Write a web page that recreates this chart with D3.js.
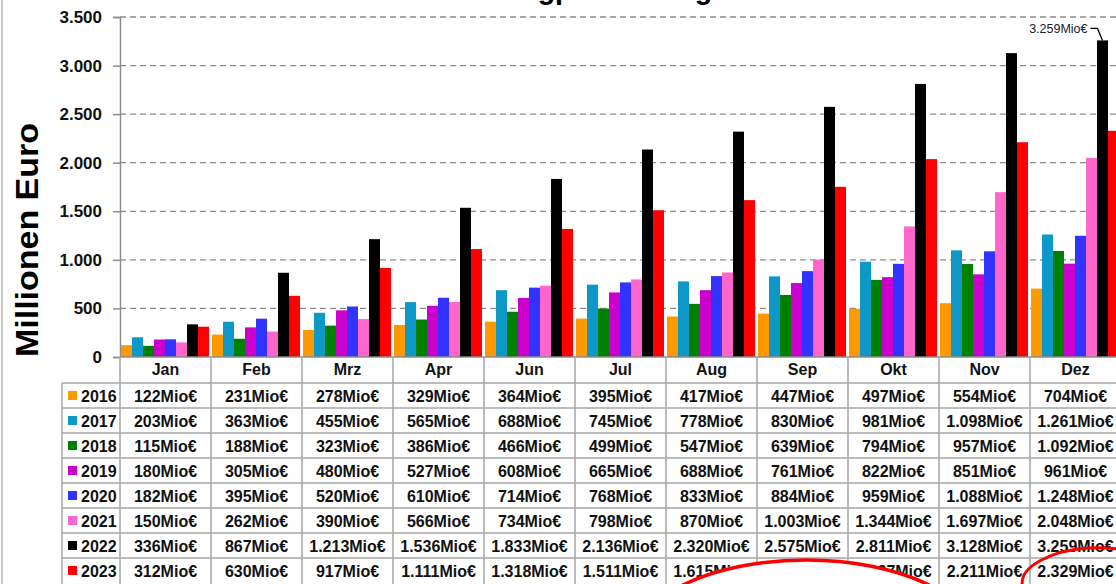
<!DOCTYPE html>
<html>
<head>
<meta charset="utf-8">
<script src="https://cdn.jsdelivr.net/npm/d3@7/dist/d3.min.js"></script>
<style>
  html, body { margin: 0; padding: 0; background: #fff; overflow: hidden; }
  svg { display: block; font-family: "Liberation Sans", Arial, sans-serif; }
</style>
</head>
<body>
<svg id="chart" width="1116" height="584"></svg>
<script>
// Monthly cumulative amounts, million euro
const months = ["Jan", "Feb", "Mrz", "Apr", "Jun", "Jul", "Aug", "Sep", "Okt", "Nov", "Dez"];
const years = ["2016", "2017", "2018", "2019", "2020", "2021", "2022", "2023"];
const v2016 = [122, 231, 278, 329, 364, 395, 417, 447, 497, 554, 704];
const v2017 = [203, 363, 455, 565, 688, 745, 778, 830, 981, 1098, 1261];
const v2018 = [115, 188, 323, 386, 466, 499, 547, 639, 794, 957, 1092];
const v2019 = [180, 305, 480, 527, 608, 665, 688, 761, 822, 851, 961];
const v2020 = [182, 395, 520, 610, 714, 768, 833, 884, 959, 1088, 1248];
const v2021 = [150, 262, 390, 566, 734, 798, 870, 1003, 1344, 1697, 2048];
const v2022 = [336, 867, 1213, 1536, 1833, 2136, 2320, 2575, 2811, 3128, 3259];
const v2023 = [312, 630, 917, 1111, 1318, 1511, 1615, 1752, 2037, 2211, 2329];
const yTicks = [0, 500, 1000, 1500, 2000, 2500, 3000, 3500];
const seriesColors = ["#FF9900", "#0E98C8", "#008000", "#CC00CC", "#3333FF", "#FF66CC", "#000000", "#FF0000"];

const series = [v2016, v2017, v2018, v2019, v2020, v2021, v2022, v2023];

const de = d3.formatLocale({ decimal: ",", thousands: ".", grouping: [3], currency: ["", "€"] });
const fmt = de.format(",d");

const svg = d3.select("#chart");
const W = 1116, H = 584;
const left = 120, bandW = 91;
const plotTop = 17, plotBottom = 357;

const x = d3.scaleBand().domain(months).range([left, left + bandW * months.length]).padding(0);
const xi = d3.scaleBand().domain(years).range([1, bandW - 2]).padding(0);
const y = d3.scaleLinear().domain([0, 3500]).range([plotBottom, plotTop]);

// frame edge on the left
svg.append("line").attr("x1", 2).attr("x2", 2).attr("y1", 0).attr("y2", H)
  .attr("stroke", "#c8c8c8").attr("stroke-width", 2);

// title (runs off the top edge)
svg.append("text")
  .attr("x", 575).attr("y", -1)
  .attr("text-anchor", "middle")
  .attr("font-size", 30).attr("font-weight", "bold").attr("fill", "#000")
  .attr("textLength", 900).attr("lengthAdjust", "spacingAndGlyphs")
  .text("Kumulierte Kosten des Netzengpassmanagements in Deutschland");

// horizontal grid
svg.append("g")
  .selectAll("line")
  .data(yTicks.filter(d => d > 0))
  .join("line")
  .attr("x1", left).attr("x2", W)
  .attr("y1", d => y(d)).attr("y2", d => y(d))
  .attr("stroke", "#8c8c8c").attr("stroke-width", 1.3)
  .attr("stroke-dasharray", "6,4");

// y axis
const yAxis = svg.append("g")
  .attr("transform", `translate(${left},0)`)
  .call(d3.axisLeft(y).tickValues(yTicks).tickSize(7).tickPadding(11).tickFormat(fmt));
yAxis.select(".domain").attr("stroke", "#8c8c8c").attr("stroke-width", 1.5);
yAxis.selectAll(".tick line").attr("stroke", "#8c8c8c").attr("stroke-width", 1.5);
yAxis.selectAll(".tick text")
  .attr("font-size", 17).attr("font-weight", "bold").attr("fill", "#111")
  .attr("font-family", "'Liberation Sans', Arial, sans-serif");

// y axis title
svg.append("text")
  .attr("transform", "translate(38,240) rotate(-90)")
  .attr("text-anchor", "middle")
  .attr("font-size", 31).attr("font-weight", "bold").attr("fill", "#000")
  .attr("textLength", 234).attr("lengthAdjust", "spacingAndGlyphs")
  .text("Millionen Euro");

// bars
const groups = svg.append("g").selectAll("g")
  .data(months)
  .join("g")
  .attr("transform", d => `translate(${x(d)},0)`);
groups.selectAll("rect")
  .data((m, mi) => years.map((yr, si) => ({ yr, si, v: series[si][mi] })))
  .join("rect")
  .attr("x", d => xi(d.yr))
  .attr("width", xi.bandwidth())
  .attr("y", d => y(d.v))
  .attr("height", d => y(0) - y(d.v))
  .attr("fill", d => seriesColors[d.si]);

// x axis line
svg.append("line").attr("x1", left).attr("x2", W).attr("y1", plotBottom).attr("y2", plotBottom)
  .attr("stroke", "#8c8c8c").attr("stroke-width", 1.5);

// callout for the December 2022 value
const last = months.length - 1;
const bx = x(months[last]) + xi("2022") + xi.bandwidth() / 2;
const by = y(v2022[last]);
svg.append("path")
  .attr("d", `M${bx - 12},${by - 12} L${bx - 5},${by - 12} L${bx},${by}`)
  .attr("fill", "none").attr("stroke", "#000").attr("stroke-width", 1.3);
svg.append("text")
  .attr("x", bx - 15).attr("y", by - 7)
  .attr("text-anchor", "end")
  .attr("font-size", 12.5).attr("fill", "#222")
  .text(fmt(v2022[last]) + "Mio€");

// data table
const rowH = 25;
const headTop = plotBottom, row0 = 383;
const legendLeft = 62;
const gridColor = "#a6a6a6";
const table = svg.append("g");

// vertical column lines
table.selectAll("line.col")
  .data(months.concat(["_end"]))
  .join("line")
  .attr("class", "col")
  .attr("x1", (d, i) => left + i * bandW).attr("x2", (d, i) => left + i * bandW)
  .attr("y1", headTop).attr("y2", H)
  .attr("stroke", gridColor).attr("stroke-width", 1.5);
table.append("line")
  .attr("x1", legendLeft).attr("x2", legendLeft).attr("y1", row0).attr("y2", H)
  .attr("stroke", gridColor).attr("stroke-width", 1.5);
// horizontal row lines
table.selectAll("line.row")
  .data(years)
  .join("line")
  .attr("class", "row")
  .attr("x1", legendLeft).attr("x2", W)
  .attr("y1", (d, i) => row0 + i * rowH).attr("y2", (d, i) => row0 + i * rowH)
  .attr("stroke", gridColor).attr("stroke-width", 1.5);

// month headers
table.selectAll("text.head")
  .data(months)
  .join("text")
  .attr("class", "head")
  .attr("x", d => x(d) + bandW / 2)
  .attr("y", headTop + 18)
  .attr("text-anchor", "middle")
  .attr("font-size", 16).attr("font-weight", "bold").attr("fill", "#111")
  .text(d => d);

// legend keys
years.forEach((yr, si) => {
  const cy = row0 + si * rowH + rowH / 2;
  table.append("rect")
    .attr("x", 68).attr("y", cy - 4.5).attr("width", 9).attr("height", 9)
    .attr("fill", seriesColors[si]);
  table.append("text")
    .attr("x", 81).attr("y", cy + 6)
    .attr("font-size", 16).attr("font-weight", "bold").attr("fill", "#111")
    .text(yr);
  table.append("g").selectAll("text")
    .data(months)
    .join("text")
    .attr("x", d => x(d) + bandW / 2)
    .attr("y", cy + 6)
    .attr("text-anchor", "middle")
    .attr("font-size", 16).attr("font-weight", "bold").attr("fill", "#111")
    .text((d, mi) => fmt(series[si][mi]) + "Mio€");
});

// hand-drawn highlights
svg.append("ellipse")
  .attr("cx", 806).attr("cy", 650).attr("rx", 178).attr("ry", 90)
  .attr("fill", "#fff").attr("stroke", "#ff0000").attr("stroke-width", 3.5);
svg.append("ellipse")
  .attr("cx", 1090).attr("cy", 579).attr("rx", 68).attr("ry", 31)
  .attr("transform", "rotate(-4,1090,579)")
  .attr("fill", "none").attr("stroke", "#ff0000").attr("stroke-width", 3);
</script>
</body>
</html>
